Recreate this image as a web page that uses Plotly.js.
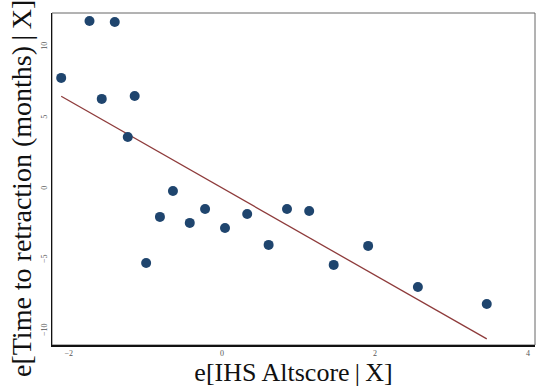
<!DOCTYPE html>
<html>
<head>
<meta charset="utf-8">
<script src="https://cdn.plot.ly/plotly-3.0.1.min.js"></script>
<style>html,body{margin:0;padding:0;background:#fff;}#chart{width:537px;height:389px;}</style>
</head>
<body>
<div id="chart"></div>
<script>
// Residualized IHS Altscore (x) and time to retraction (y)
const residAltscore = [-2.10, -1.73, -1.40, -1.57, -1.14, -1.23, -0.64, -0.81, -0.99, -0.42,
                       -0.22, 0.04, 0.33, 0.61, 0.85, 1.14, 1.46, 1.91, 2.56, 3.46];
const residRetraction = [7.82, 11.83, 11.76, 6.34, 6.55, 3.66, -0.14, -1.97, -5.21, -2.39,
                         -1.41, -2.75, -1.76, -3.94, -1.41, -1.55, -5.35, -4.01, -6.90, -8.10];
const xTickVals = [-2, 0, 2, 4];
const yTickVals = [-10, -5, 0, 5, 10];
const xTitle = 'e[IHS Altscore\u2009|\u2009X]';
const yTitle = 'e[Time to retraction (months)\u2009|\u2009X]';

// OLS fit line computed from data
const n = residAltscore.length;
const mx = residAltscore.reduce((a, b) => a + b, 0) / n;
const my = residRetraction.reduce((a, b) => a + b, 0) / n;
let sxy = 0, sxx = 0;
for (let i = 0; i < n; i++) {
  sxy += (residAltscore[i] - mx) * (residRetraction[i] - my);
  sxx += (residAltscore[i] - mx) ** 2;
}
const slope = sxy / sxx;
const intercept = my - slope * mx;
const xMin = Math.min(...residAltscore), xMax = Math.max(...residAltscore);
const fitX = [xMin, xMax];
const fitY = fitX.map(v => intercept + slope * v);

const serif = "'Liberation Serif', 'DejaVu Serif', serif";

const traces = [
  {
    x: fitX, y: fitY, type: 'scatter', mode: 'lines',
    line: {color: '#8e3b3b', width: 1.3}, hoverinfo: 'skip'
  },
  {
    x: residAltscore, y: residRetraction, type: 'scatter', mode: 'markers',
    marker: {color: '#1f456e', size: 10, line: {width: 0}}
  }
];

const layout = {
  width: 537, height: 389,
  margin: {l: 52, r: 2, t: 13, b: 44},
  paper_bgcolor: '#ffffff', plot_bgcolor: '#ffffff',
  showlegend: false,
  xaxis: {
    range: [-2.22, 4.09], tickvals: xTickVals, ticks: '', showgrid: false, zeroline: false,
    showline: true, linecolor: '#111', linewidth: 1.5,
    tickfont: {family: serif, size: 8, color: '#555'},
    title: {text: xTitle, font: {family: serif, size: 26, color: '#111'}, standoff: 4}
  },
  yaxis: {
    range: [-10.99, 12.39], tickvals: yTickVals, ticks: '', showgrid: false, zeroline: false,
    showline: true, linecolor: '#111', linewidth: 1.5, tickangle: -90,
    tickfont: {family: serif, size: 8, color: '#555'}
  },
  annotations: [{
    text: yTitle, xref: 'paper', yref: 'paper', x: -0.062, y: 0.47,
    xanchor: 'center', yanchor: 'middle', textangle: -90, showarrow: false,
    font: {family: serif, size: 28, color: '#111'}
  }],
  shapes: [{
    type: 'rect', xref: 'paper', yref: 'paper', x0: 0, x1: 1, y0: 0, y1: 1,
    line: {color: '#666', width: 1}, layer: 'below'
  }]
};

Plotly.newPlot('chart', traces, layout, {displayModeBar: false, staticPlot: true});
</script>
</body>
</html>
